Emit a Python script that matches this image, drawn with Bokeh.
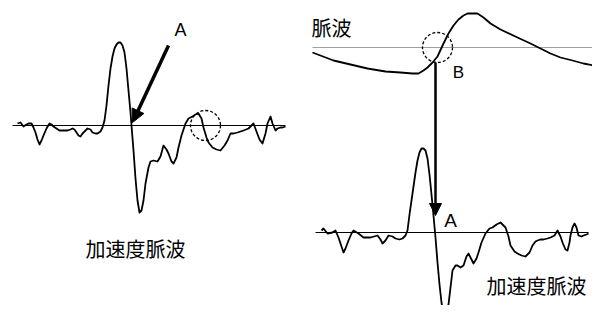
from bokeh.plotting import figure
from bokeh.models import Range1d, Arrow, NormalHead
from bokeh.core.properties import value
from bokeh.embed import file_html
from bokeh.resources import INLINE

# Left acceleration pulse wave (time, amplitude above baseline)
left_t = [17, 20, 23, 26, 28, 31, 33, 35, 37, 39, 41, 43, 46, 49, 51, 53, 56, 59, 63, 67, 70,
          72, 74, 76, 78, 80, 82, 84, 87, 90, 92, 95, 97, 100, 102,
          104, 106, 108, 110, 112, 114, 116, 118, 120, 122, 124, 126, 128, 130, 131, 133, 135,
          137, 139, 141, 143, 145, 148, 150, 153, 157, 160, 163, 166, 168, 171, 173, 176, 178,
          181, 185, 188, 192, 195, 198, 201, 203, 206, 208, 212, 216, 220, 224, 227, 230, 233,
          237, 243, 248, 251, 253, 256, 259, 262, 265, 267, 270, 272, 275, 277, 280, 282, 285]
left_a = [2, 3, -1, 1, 2, 2, -2, -7, -14, -19, -15, -10, -3, 2, 1, -1, -3, -5, -5, -5, -4,
          -3, -4, -7, -10, -11, -8, -6, -3, -4, -7, -8, -8, -6, -2,
          5, 20, 40, 57, 69, 77, 81, 83, 83, 80, 73, 57, 35, 13, 0, -25, -53,
          -75, -87, -85, -75, -58, -42, -36, -35, -36, -31, -20, -24, -28, -36, -38, -32, -22,
          -10, 2, 7, 9, 11, 12, 7, -2, -12, -17, -22, -24, -25, -20, -15, -8, -8,
          -7, -5, -3, 0, 2, -6, -14, -18, -8, 2, 9, 2, -5, -3, -2, -2, -1]
left_base = 125

# Right pulse wave (time, amplitude above its baseline)
pulse_t = [312, 333, 350, 367, 385, 400, 412, 418, 423, 427, 432, 437, 443, 448, 453, 458,
           463, 467, 470, 477, 483, 490, 500, 517, 530, 540, 550, 560, 572, 583, 593, 603]
pulse_a = [-5, -13, -17, -21, -24, -25, -26, -26, -23, -20, -15, -9, 4, 14, 22, 28,
           32, 34, 34, 34, 30, 24, 18, 10, 4, -1, -6, -10, -13, -16, -18, -20]
pulse_base = 47

# Right acceleration pulse wave
right_t = [321, 323, 327, 332, 335, 338, 341, 343, 345, 348, 351, 353, 358, 363, 370, 377,
           380, 382, 385, 388, 392, 395, 399, 402, 405, 407, 409, 412, 415, 417, 419, 421,
           423, 425, 427, 429, 431, 433, 435, 437,
           439, 441, 443, 444, 446, 448, 450, 452, 455, 457, 460, 463, 466, 468, 471, 473,
           476, 478, 481, 485, 489, 492, 496, 500, 503, 505, 508, 510, 514, 517, 521, 525,
           529, 532, 535, 537, 540, 543, 547, 550, 554, 557, 560, 562, 565, 567, 569, 570,
           572, 574, 576, 578, 581, 583, 586, 588]
right_a = [2, 4, -1, 0, 2, -5, -14, -20, -16, -8, -1, 2, -1, -5, -5, -3,
           -7, -11, -8, -3, -4, -6, -7, -6, -3, 2, 18, 39, 60, 72, 80, 84,
           84, 82, 74, 58, 38, 17, -5, -30,
           -52, -70, -82, -86, -83, -72, -55, -38, -33, -33, -35, -33, -24, -21, -27, -31,
           -26, -20, -10, -1, 4, 5, 8, 10, 7, 5, -4, -13, -19, -21, -23, -24,
           -20, -13, -9, -8, -7, -7, -6, -5, -3, 2, -4, -10, -17, -18, -10, -3,
           5, 9, 5, -3, -4, -3, -2, -1]
right_base = 232

p = figure(width=592, height=305, x_range=Range1d(0, 592), y_range=Range1d(305, 0),
           output_backend="svg", toolbar_location=None, min_border=0)
p.axis.visible = False
p.grid.visible = False
p.outline_line_color = None
p.background_fill_color = "white"

# baselines
p.line([12, 285], [left_base, left_base], line_color="black", line_width=1)
p.line([312, 605], [pulse_base, pulse_base], line_color="#a0a0a0", line_width=1.2)
p.line([315, 588], [right_base, right_base], line_color="black", line_width=1)

# waveforms
p.line(left_t, [left_base - a for a in left_a], line_color="black", line_width=1.8,
       line_join="round")
p.line(pulse_t, [pulse_base - a for a in pulse_a], line_color="black", line_width=1.8,
       line_join="round")
p.line(right_t, [right_base - a for a in right_a], line_color="black", line_width=1.8,
       line_join="round")

# dashed circles
p.ellipse(x=[205, 437], y=[125, 47], width=30, height=30, fill_color=None,
          line_color="black", line_width=1.3, line_dash="3 2")

# arrows
p.add_layout(Arrow(end=NormalHead(size=13, fill_color="black", line_color="black"),
                   x_start=168, y_start=45, x_end=132, y_end=122,
                   line_width=3.5, line_color="black"))
p.add_layout(Arrow(end=NormalHead(size=12, fill_color="black", line_color="black"),
                   x_start=435, y_start=62, x_end=435, y_end=215,
                   line_width=2.5, line_color="black"))

# letters
p.text(x=[180], y=[29], text=["A"], text_font=value("Liberation Sans"),
       text_font_size="18px", text_align="center", text_baseline="middle", text_color="black")
p.text(x=[458], y=[72], text=["B"], text_font=value("Liberation Sans"),
       text_font_size="17px", text_align="center", text_baseline="middle", text_color="black")
p.text(x=[450], y=[220], text=["A"], text_font=value("Liberation Sans"),
       text_font_size="19px", text_align="center", text_baseline="middle", text_color="black")

# Japanese labels
p.text(x=[331], y=[27], text=["脈波"], text_font=value("Noto Sans CJK JP"),
       text_font_size="20px", text_align="center", text_baseline="middle", text_color="black")
p.text(x=[135], y=[248], text=["加速度脈波"], text_font=value("Noto Sans CJK JP"),
       text_font_size="20px", text_align="center", text_baseline="middle", text_color="black")
p.text(x=[536], y=[285], text=["加速度脈波"], text_font=value("Noto Sans CJK JP"),
       text_font_size="20px", text_align="center", text_baseline="middle", text_color="black")

open("out.html", "w").write(file_html(p, INLINE))
